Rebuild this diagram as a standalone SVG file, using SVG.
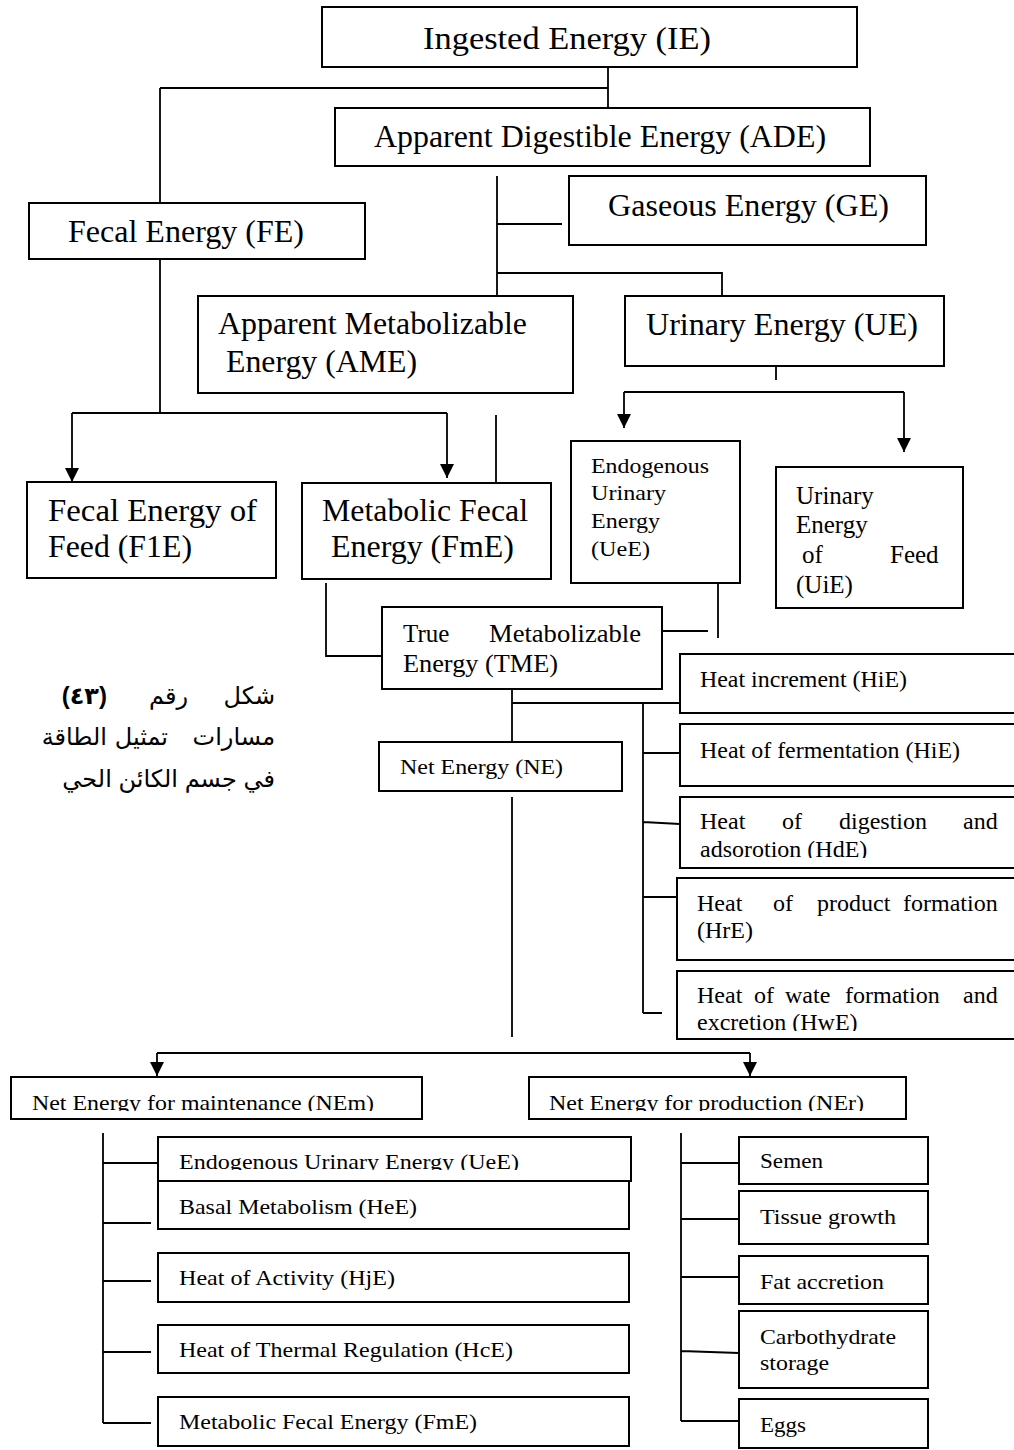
<svg xmlns="http://www.w3.org/2000/svg" width="1014" height="1450" viewBox="0 0 1014 1450">
  <style>
    .box { fill: #ffffff; stroke: #000000; stroke-width: 2; }
    .wire { fill: none; stroke: #000000; stroke-width: 1.8; }
    .arr { marker-end: url(#arrow); }
    text { font-family: "Liberation Serif", "Times New Roman", serif; fill: #000000; }
    .big { font-size: 31px; }
    .mid { font-size: 25px; }
    .sm { font-size: 22px; }
    .heat { font-size: 24px; }
    .ar { font-family: "Liberation Sans", "DejaVu Sans", "Noto Sans", sans-serif; font-size: 24px; direction: rtl; text-anchor: start; }
  </style>
  <defs>
    <marker id="arrow" markerWidth="14" markerHeight="14" refX="14" refY="7" orient="auto" markerUnits="userSpaceOnUse">
      <path d="M0,0 L14,7 L0,14 Z" fill="#000000"/>
    </marker>
    <clipPath id="clipNEm"><rect x="0" y="1070" width="430" height="41"/></clipPath>
    <clipPath id="clipNEr"><rect x="520" y="1070" width="400" height="41"/></clipPath>
    <clipPath id="clipUeE2"><rect x="150" y="1130" width="500" height="40"/></clipPath>
    <clipPath id="clipHdE"><rect x="680" y="790" width="340" height="68"/></clipPath>
    <clipPath id="clipHwE"><rect x="677" y="965" width="340" height="66"/></clipPath>
  </defs>

  <rect width="1014" height="1450" fill="#ffffff"/>

  <!-- connectors -->
  <g id="connectors">
    <path class="wire" d="M608,67 V108 M160,88 H608 M160,88 V203"/>
    <path class="wire" d="M497,176 V296 M497,224 H562 M497,273 H722 V296"/>
    <path class="wire" d="M160,259 V413 M72,413 H447"/>
    <path class="wire arr" d="M72,413 V482"/>
    <path class="wire arr" d="M447,413 V478"/>
    <path class="wire" d="M496,415 V488"/>
    <path class="wire" d="M776,366 V380 M624,392 H904"/>
    <path class="wire arr" d="M624,392 V428"/>
    <path class="wire arr" d="M904,392 V452"/>
    <path class="wire" d="M326,583 V656 H385"/>
    <path class="wire" d="M718,583 V638 M662,631 H708"/>
    <path class="wire" d="M512,678 V742 M512,703 H680 M643,703 V1013 M643,753 H680 M643,822 L680,824 M643,897 H680 M643,1013 H662"/>
    <path class="wire" d="M512,797 V1037 M157,1053 H750"/>
    <path class="wire arr" d="M157,1053 V1076"/>
    <path class="wire arr" d="M750,1053 V1076"/>
    <path class="wire" d="M103,1133 V1423 M103,1163 H158 M103,1223 H151 M103,1281 H151 M103,1352 H151 M103,1423 H151"/>
    <path class="wire" d="M681,1133 V1421 M681,1163 H739 M681,1219 H739 M681,1277 H739 M681,1351 L739,1353 M681,1421 H739"/>
  </g>

  <!-- top chain -->
  <g id="ie">
    <rect class="box" x="322" y="7" width="535" height="60"/>
    <text class="big" x="423" y="49" font-size="32" textLength="288" lengthAdjust="spacingAndGlyphs">Ingested Energy (IE)</text>
  </g>
  <g id="ade">
    <rect class="box" x="335" y="108" width="535" height="58"/>
    <text class="big" x="374" y="147" textLength="452" lengthAdjust="spacingAndGlyphs">Apparent Digestible Energy (ADE)</text>
  </g>
  <g id="ge">
    <rect class="box" x="569" y="176" width="357" height="69"/>
    <text class="big" x="608" y="216" textLength="281" lengthAdjust="spacingAndGlyphs">Gaseous Energy (GE)</text>
  </g>
  <g id="fe">
    <rect class="box" x="29" y="203" width="336" height="56"/>
    <text class="big" x="68" y="242" textLength="236" lengthAdjust="spacingAndGlyphs">Fecal Energy (FE)</text>
  </g>
  <g id="ame">
    <rect class="box" x="198" y="296" width="375" height="97"/>
    <text class="big" x="218" y="334" textLength="309" lengthAdjust="spacingAndGlyphs">Apparent Metabolizable</text>
    <text class="big" x="226" y="372" textLength="191" lengthAdjust="spacingAndGlyphs">Energy (AME)</text>
  </g>
  <g id="ue">
    <rect class="box" x="625" y="296" width="319" height="70"/>
    <text class="big" x="646" y="335" textLength="272" lengthAdjust="spacingAndGlyphs">Urinary Energy (UE)</text>
  </g>

  <!-- fecal split -->
  <g id="f1e">
    <rect class="box" x="27" y="482" width="249" height="96"/>
    <text class="big" x="48" y="521" textLength="209" lengthAdjust="spacingAndGlyphs">Fecal Energy of</text>
    <text class="big" x="48" y="557" textLength="144" lengthAdjust="spacingAndGlyphs">Feed (F1E)</text>
  </g>
  <g id="fme">
    <rect class="box" x="302" y="483" width="249" height="96"/>
    <text class="big" x="322" y="521" textLength="206" lengthAdjust="spacingAndGlyphs">Metabolic Fecal</text>
    <text class="big" x="331" y="557" textLength="183" lengthAdjust="spacingAndGlyphs">Energy (FmE)</text>
  </g>

  <!-- urinary split -->
  <g id="uee">
    <rect class="box" x="571" y="441" width="169" height="142"/>
    <text class="sm" x="591" y="473" textLength="118" lengthAdjust="spacingAndGlyphs">Endogenous</text>
    <text class="sm" x="591" y="500" textLength="75" lengthAdjust="spacingAndGlyphs">Urinary</text>
    <text class="sm" x="591" y="528" textLength="69" lengthAdjust="spacingAndGlyphs">Energy</text>
    <text class="sm" x="591" y="556" textLength="59" lengthAdjust="spacingAndGlyphs">(UeE)</text>
  </g>
  <g id="uie">
    <rect class="box" x="776" y="467" width="187" height="141"/>
    <text class="mid" x="796" y="504">Urinary</text>
    <text class="mid" x="796" y="533">Energy</text>
    <text class="mid" y="563"><tspan x="802">of</tspan><tspan x="890">Feed</tspan></text>
    <text class="mid" x="796" y="593">(UiE)</text>
  </g>

  <!-- true metabolizable energy -->
  <g id="tme">
    <rect class="box" x="382" y="607" width="280" height="82"/>
    <text class="mid" x="403" y="642">True</text>
    <text class="mid" x="489" y="642" textLength="152" lengthAdjust="spacingAndGlyphs">Metabolizable</text>
    <text class="mid" x="403" y="672" textLength="155" lengthAdjust="spacingAndGlyphs">Energy (TME)</text>
  </g>

  <!-- figure caption -->
  <g id="caption">
    <text class="ar" x="275" y="704">شكل</text>
    <text class="ar" x="188" y="704">رقم</text>
    <text class="ar" x="107" y="704" font-size="26" font-weight="bold">(٤٣)</text>
    <text class="ar" x="275" y="745">مسارات</text>
    <text class="ar" x="168" y="745">تمثيل</text>
    <text class="ar" x="107" y="745">الطاقة</text>
    <text class="ar" x="275" y="787">في جسم الكائن الحي</text>
  </g>

  <!-- heat losses -->
  <g id="hie">
    <rect class="box" x="680" y="654" width="345" height="59"/>
    <text class="heat" x="700" y="687" textLength="207" lengthAdjust="spacingAndGlyphs">Heat increment (HiE)</text>
  </g>
  <g id="hfe">
    <rect class="box" x="680" y="724" width="345" height="62"/>
    <text class="heat" x="700" y="758" textLength="260" lengthAdjust="spacingAndGlyphs">Heat of fermentation (HiE)</text>
  </g>
  <g id="hde">
    <rect class="box" x="680" y="797" width="345" height="71"/>
    <text class="heat" y="829"><tspan x="700">Heat</tspan><tspan x="782">of</tspan><tspan x="839">digestion</tspan><tspan x="963">and</tspan></text>
    <text class="heat" x="700" y="857" clip-path="url(#clipHdE)">adsorotion (HdE)</text>
  </g>
  <g id="hre">
    <rect class="box" x="677" y="878" width="345" height="82"/>
    <text class="heat" y="911"><tspan x="697">Heat</tspan><tspan x="773">of</tspan><tspan x="817">product</tspan><tspan x="903">formation</tspan></text>
    <text class="heat" x="697" y="938">(HrE)</text>
  </g>
  <g id="hwe">
    <rect class="box" x="677" y="971" width="345" height="68"/>
    <text class="heat" y="1003"><tspan x="697">Heat</tspan><tspan x="754">of</tspan><tspan x="785">wate</tspan><tspan x="845">formation</tspan><tspan x="963">and</tspan></text>
    <text class="heat" x="697" y="1030" clip-path="url(#clipHwE)">excretion (HwE)</text>
  </g>

  <!-- net energy -->
  <g id="ne">
    <rect class="box" x="379" y="742" width="243" height="49"/>
    <text class="sm" x="400" y="774" textLength="163" lengthAdjust="spacingAndGlyphs">Net Energy (NE)</text>
  </g>
  <g id="nem">
    <rect class="box" x="11" y="1077" width="411" height="42"/>
    <text class="sm" x="32" y="1110" font-size="23" textLength="342" lengthAdjust="spacingAndGlyphs" clip-path="url(#clipNEm)">Net Energy for maintenance (NEm)</text>
  </g>
  <g id="ner">
    <rect class="box" x="529" y="1077" width="377" height="42"/>
    <text class="sm" x="549" y="1110" font-size="23" textLength="315" lengthAdjust="spacingAndGlyphs" clip-path="url(#clipNEr)">Net Energy for production (NEr)</text>
  </g>

  <!-- maintenance components -->
  <g id="m-uee">
    <rect class="box" x="158" y="1137" width="473" height="44"/>
    <text class="sm" x="179" y="1169" textLength="340" lengthAdjust="spacingAndGlyphs" clip-path="url(#clipUeE2)">Endogenous Urinary Energy (UeE)</text>
  </g>
  <g id="m-hee">
    <rect class="box" x="158" y="1181" width="471" height="48"/>
    <text class="sm" x="179" y="1214" textLength="238" lengthAdjust="spacingAndGlyphs">Basal Metabolism (HeE)</text>
  </g>
  <g id="m-hje">
    <rect class="box" x="158" y="1253" width="471" height="49"/>
    <text class="sm" x="179" y="1285" textLength="216" lengthAdjust="spacingAndGlyphs">Heat of Activity (HjE)</text>
  </g>
  <g id="m-hce">
    <rect class="box" x="158" y="1325" width="471" height="48"/>
    <text class="sm" x="179" y="1357" textLength="334" lengthAdjust="spacingAndGlyphs">Heat of Thermal Regulation (HcE)</text>
  </g>
  <g id="m-fme">
    <rect class="box" x="158" y="1397" width="471" height="49"/>
    <text class="sm" x="179" y="1429" textLength="298" lengthAdjust="spacingAndGlyphs">Metabolic Fecal Energy (FmE)</text>
  </g>

  <!-- production components -->
  <g id="p-semen">
    <rect class="box" x="739" y="1137" width="189" height="47"/>
    <text class="sm" x="760" y="1168" textLength="63" lengthAdjust="spacingAndGlyphs">Semen</text>
  </g>
  <g id="p-tissue">
    <rect class="box" x="739" y="1191" width="189" height="53"/>
    <text class="sm" x="760" y="1224" textLength="136" lengthAdjust="spacingAndGlyphs">Tissue growth</text>
  </g>
  <g id="p-fat">
    <rect class="box" x="739" y="1256" width="189" height="48"/>
    <text class="sm" x="760" y="1289" textLength="124" lengthAdjust="spacingAndGlyphs">Fat accretion</text>
  </g>
  <g id="p-carb">
    <rect class="box" x="739" y="1311" width="189" height="77"/>
    <text class="sm" x="760" y="1344" textLength="136" lengthAdjust="spacingAndGlyphs">Carbothydrate</text>
    <text class="sm" x="760" y="1370" textLength="69" lengthAdjust="spacingAndGlyphs">storage</text>
  </g>
  <g id="p-eggs">
    <rect class="box" x="739" y="1399" width="189" height="49"/>
    <text class="sm" x="760" y="1432" textLength="46" lengthAdjust="spacingAndGlyphs">Eggs</text>
  </g>
</svg>
